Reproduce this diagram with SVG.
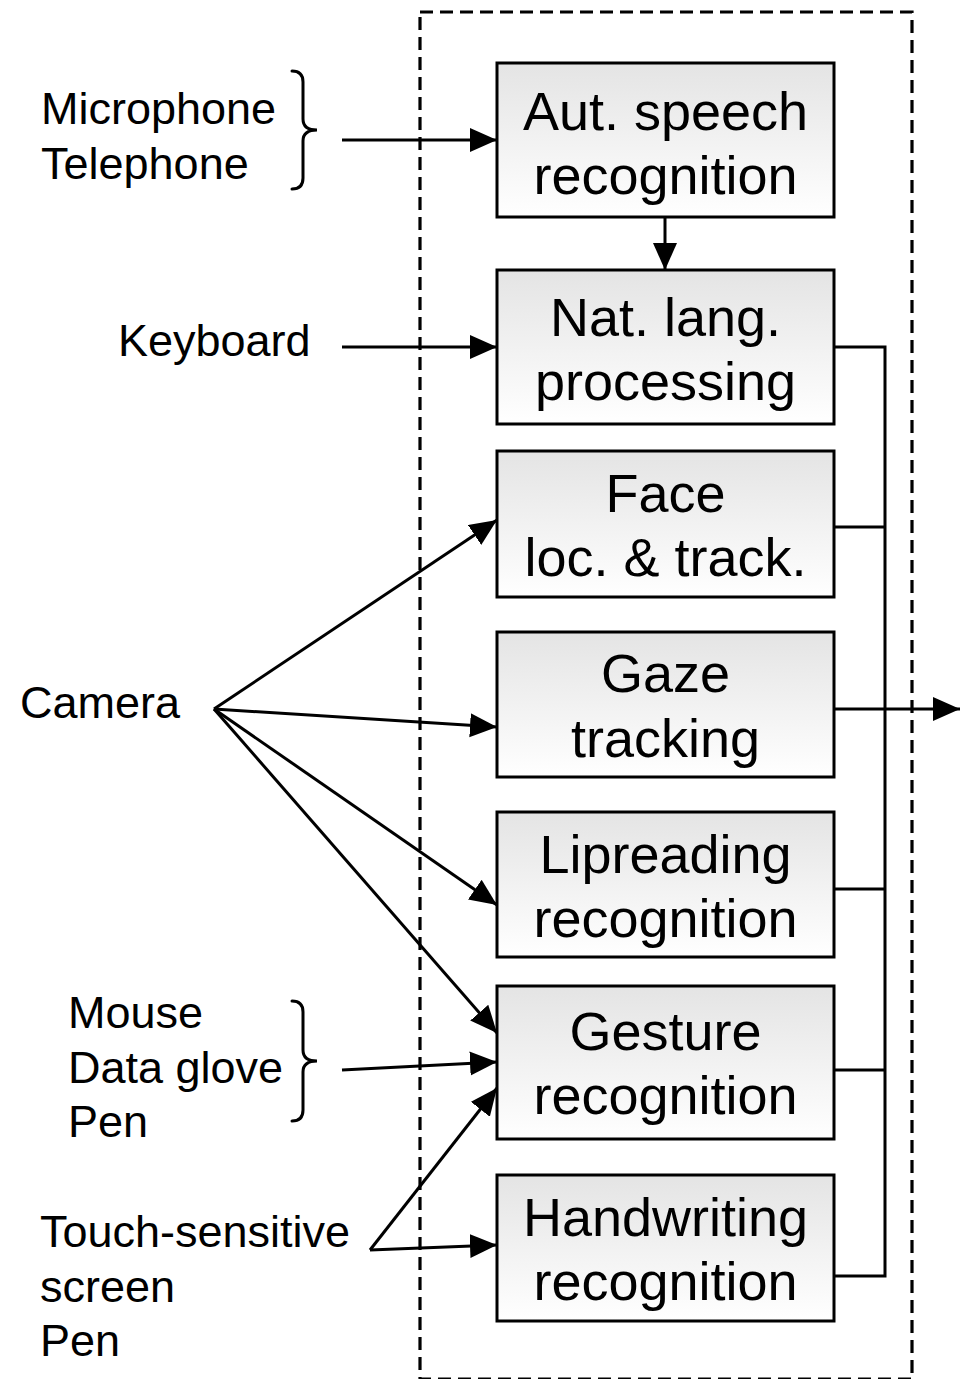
<svg xmlns="http://www.w3.org/2000/svg" width="962" height="1379" viewBox="0 0 962 1379">
  <style>
    .box { stroke: #000; stroke-width: 3; fill: url(#boxFill); }
    .lbl { font-family: "Liberation Sans", Arial, sans-serif; font-size: 54px; fill: #000; text-anchor: middle; }
    .src { font-family: "Liberation Sans", Arial, sans-serif; font-size: 45px; fill: #000; }
    .wire { stroke: #000; stroke-width: 3; fill: none; }
    .arrow { stroke: #000; stroke-width: 3; fill: none; marker-end: url(#head); }
    .brace { stroke: #000; stroke-width: 3; fill: none; stroke-linecap: round; }
  </style>
  <defs>
    <linearGradient id="boxFill" x1="0" y1="0" x2="0" y2="1">
      <stop offset="0" stop-color="#e4e4e4"/>
      <stop offset="1" stop-color="#ffffff"/>
    </linearGradient>
    <marker id="head" markerUnits="userSpaceOnUse" markerWidth="30" markerHeight="26" refX="27" refY="12" orient="auto">
      <path d="M0,0 L27,12 L0,24 z" fill="#000"/>
    </marker>
  </defs>

  <rect width="962" height="1379" fill="#fff"/>

  <!-- system boundary -->
  <rect id="boundary" x="420" y="12" width="492" height="1367" fill="none" stroke="#000" stroke-width="3.2" stroke-dasharray="13 7"/>

  <!-- processing modules -->
  <g id="asr">
    <rect class="box" x="497" y="63" width="337" height="154"/>
    <text class="lbl" x="665.5" y="130">Aut. speech</text>
    <text class="lbl" x="665.5" y="194">recognition</text>
  </g>
  <g id="nlp">
    <rect class="box" x="497" y="270" width="337" height="154"/>
    <text class="lbl" x="665.5" y="336">Nat. lang.</text>
    <text class="lbl" x="665.5" y="400">processing</text>
  </g>
  <g id="face">
    <rect class="box" x="497" y="451" width="337" height="146"/>
    <text class="lbl" x="665.5" y="512">Face</text>
    <text class="lbl" x="665.5" y="576">loc. &amp; track.</text>
  </g>
  <g id="gaze">
    <rect class="box" x="497" y="632" width="337" height="145"/>
    <text class="lbl" x="665.5" y="692">Gaze</text>
    <text class="lbl" x="665.5" y="757">tracking</text>
  </g>
  <g id="lip">
    <rect class="box" x="497" y="812" width="337" height="145"/>
    <text class="lbl" x="665.5" y="873">Lipreading</text>
    <text class="lbl" x="665.5" y="937">recognition</text>
  </g>
  <g id="gesture">
    <rect class="box" x="497" y="986" width="337" height="153"/>
    <text class="lbl" x="665.5" y="1050">Gesture</text>
    <text class="lbl" x="665.5" y="1114">recognition</text>
  </g>
  <g id="handwriting">
    <rect class="box" x="497" y="1175" width="337" height="146"/>
    <text class="lbl" x="665.5" y="1236">Handwriting</text>
    <text class="lbl" x="665.5" y="1300">recognition</text>
  </g>

  <!-- input devices -->
  <g id="audio-in">
    <text class="src" x="41" y="124">Microphone</text>
    <text class="src" x="41" y="179">Telephone</text>
    <path class="brace" d="M292,71 Q303,71 303,82 L303,119 Q303,130 317,130 Q303,130 303,141 L303,178 Q303,189 292,189"/>
  </g>
  <g id="keyboard">
    <text class="src" x="118" y="356">Keyboard</text>
  </g>
  <g id="camera">
    <text class="src" x="20" y="718">Camera</text>
  </g>
  <g id="pointing-in">
    <text class="src" x="68" y="1028">Mouse</text>
    <text class="src" x="68" y="1083">Data glove</text>
    <text class="src" x="68" y="1137">Pen</text>
    <path class="brace" d="M292,1001 Q303,1001 303,1012 L303,1050 Q303,1061 317,1061 Q303,1061 303,1072 L303,1110 Q303,1121 292,1121"/>
  </g>
  <g id="touch-in">
    <text class="src" x="40" y="1247">Touch-sensitive</text>
    <text class="src" x="40" y="1302">screen</text>
    <text class="src" x="40" y="1356">Pen</text>
  </g>

  <!-- connectors -->
  <g id="connectors">
    <line class="arrow" x1="342" y1="140" x2="497" y2="140"/>
    <line class="arrow" x1="665" y1="217" x2="665" y2="270"/>
    <line class="arrow" x1="342" y1="347" x2="497" y2="347"/>

    <line class="arrow" x1="214" y1="709" x2="497" y2="520"/>
    <line class="arrow" x1="214" y1="709" x2="497" y2="727"/>
    <line class="arrow" x1="214" y1="709" x2="497" y2="905"/>
    <line class="arrow" x1="214" y1="709" x2="497" y2="1033"/>

    <line class="arrow" x1="342" y1="1070" x2="497" y2="1062"/>

    <line class="arrow" x1="370" y1="1250" x2="497" y2="1088"/>
    <line class="arrow" x1="370" y1="1250" x2="497" y2="1245"/>

    <!-- output bus -->
    <polyline class="wire" points="834,347 885,347 885,1276 834,1276"/>
    <line class="wire" x1="834" y1="527" x2="885" y2="527"/>
    <line class="wire" x1="834" y1="889" x2="885" y2="889"/>
    <line class="wire" x1="834" y1="1070" x2="885" y2="1070"/>
    <line class="arrow" x1="834" y1="709" x2="960" y2="709"/>
  </g>
</svg>
